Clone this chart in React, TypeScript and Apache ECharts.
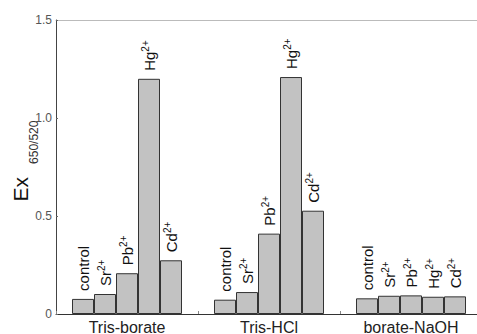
import React, { useEffect, useRef } from "react";
import * as echarts from "echarts";

const buffers = ["Tris-borate", "Tris-HCl", "borate-NaOH"];
const ionNames = ["control", "Sr", "Pb", "Hg", "Cd"];
const ionCharges = ["", "2+", "2+", "2+", "2+"];
const controlVals = [0.077, 0.073, 0.08];
const srVals = [0.102, 0.112, 0.093];
const pbVals = [0.208, 0.41, 0.095];
const hgVals = [1.2, 1.209, 0.088];
const cdVals = [0.274, 0.527, 0.09];
const seriesValues = [controlVals, srVals, pbVals, hgVals, cdVals];

export default function App() {
  const ref = useRef<HTMLDivElement>(null);
  useEffect(() => {
    if (!ref.current) return;
    const chart = echarts.init(ref.current, undefined, { renderer: "svg" });
    const font = "'Liberation Sans', Arial, sans-serif";
    chart.setOption({
      animation: false,
      textStyle: { fontFamily: font },
      grid: { left: 56, right: -5, top: 20, bottom: 20, containLabel: false, outerBoundsMode: "none" },
      xAxis: [
        {
          type: "category",
          data: buffers,
          axisLine: { lineStyle: { color: "#333", width: 1 } },
          axisTick: { show: true, inside: true, length: 3, lineStyle: { color: "#888" } },
          axisLabel: { fontSize: 16, color: "#222", margin: 5, fontFamily: font },
        },
        {
          type: "category",
          data: buffers,
          position: "top",
          axisLine: { show: true, lineStyle: { color: "#bbb", width: 1 } },
          axisTick: { show: false },
          axisLabel: { show: false },
        },
      ],
      yAxis: {
        type: "value",
        min: 0,
        max: 1.5,
        interval: 0.5,
        splitLine: { show: false },
        axisLine: { show: true, lineStyle: { color: "#444", width: 1 } },
        axisTick: { show: true, inside: true, length: 2, lineStyle: { color: "#666" } },
        axisLabel: {
          fontSize: 12,
          color: "#555",
          margin: 4,
          fontFamily: font,
          formatter: (v: number) => (v === 0 ? "0" : v.toFixed(1)),
        },
        name: "{e|Ex}{s|650/520}",
        nameLocation: "middle",
        nameRotate: 90,
        nameGap: 16,
        nameMoveOverlap: false,
        nameTextStyle: {
          padding: [0, 0, 0, 12],
          rich: {
            e: { fontSize: 21, color: "#111", fontFamily: font, lineHeight: 21, verticalAlign: "top" },
            s: {
              fontSize: 12,
              color: "#333",
              fontFamily: font,
              verticalAlign: "bottom",
              lineHeight: 30,
              padding: [0, 0, 0, 13],
            },
          },
        },
      },
      series: seriesValues.map((vals, i) => ({
        type: "bar",
        name: ionNames[i],
        data: vals,
        barWidth: 22,
        barGap: "0%",
        itemStyle: { color: "#c2c2c2", borderColor: "#333", borderWidth: 1 },
        label: {
          show: true,
          position: "top",
          rotate: 90,
          align: "left",
          verticalAlign: "middle",
          distance: 8,
          formatter: ionCharges[i] ? `{n|${ionNames[i]}}{s|${ionCharges[i]}}` : `{n|${ionNames[i]}}`,
          rich: {
            n: { fontSize: 15, color: "#111", fontFamily: font, lineHeight: 18 },
            s: { fontSize: 10, color: "#111", fontFamily: font, verticalAlign: "top", lineHeight: 18 },
          },
        },
      })),
    });
    return () => chart.dispose();
  }, []);
  return <div ref={ref} style={{ width: 477, height: 334, position: "absolute", left: 0, top: 0 }} />;
}
